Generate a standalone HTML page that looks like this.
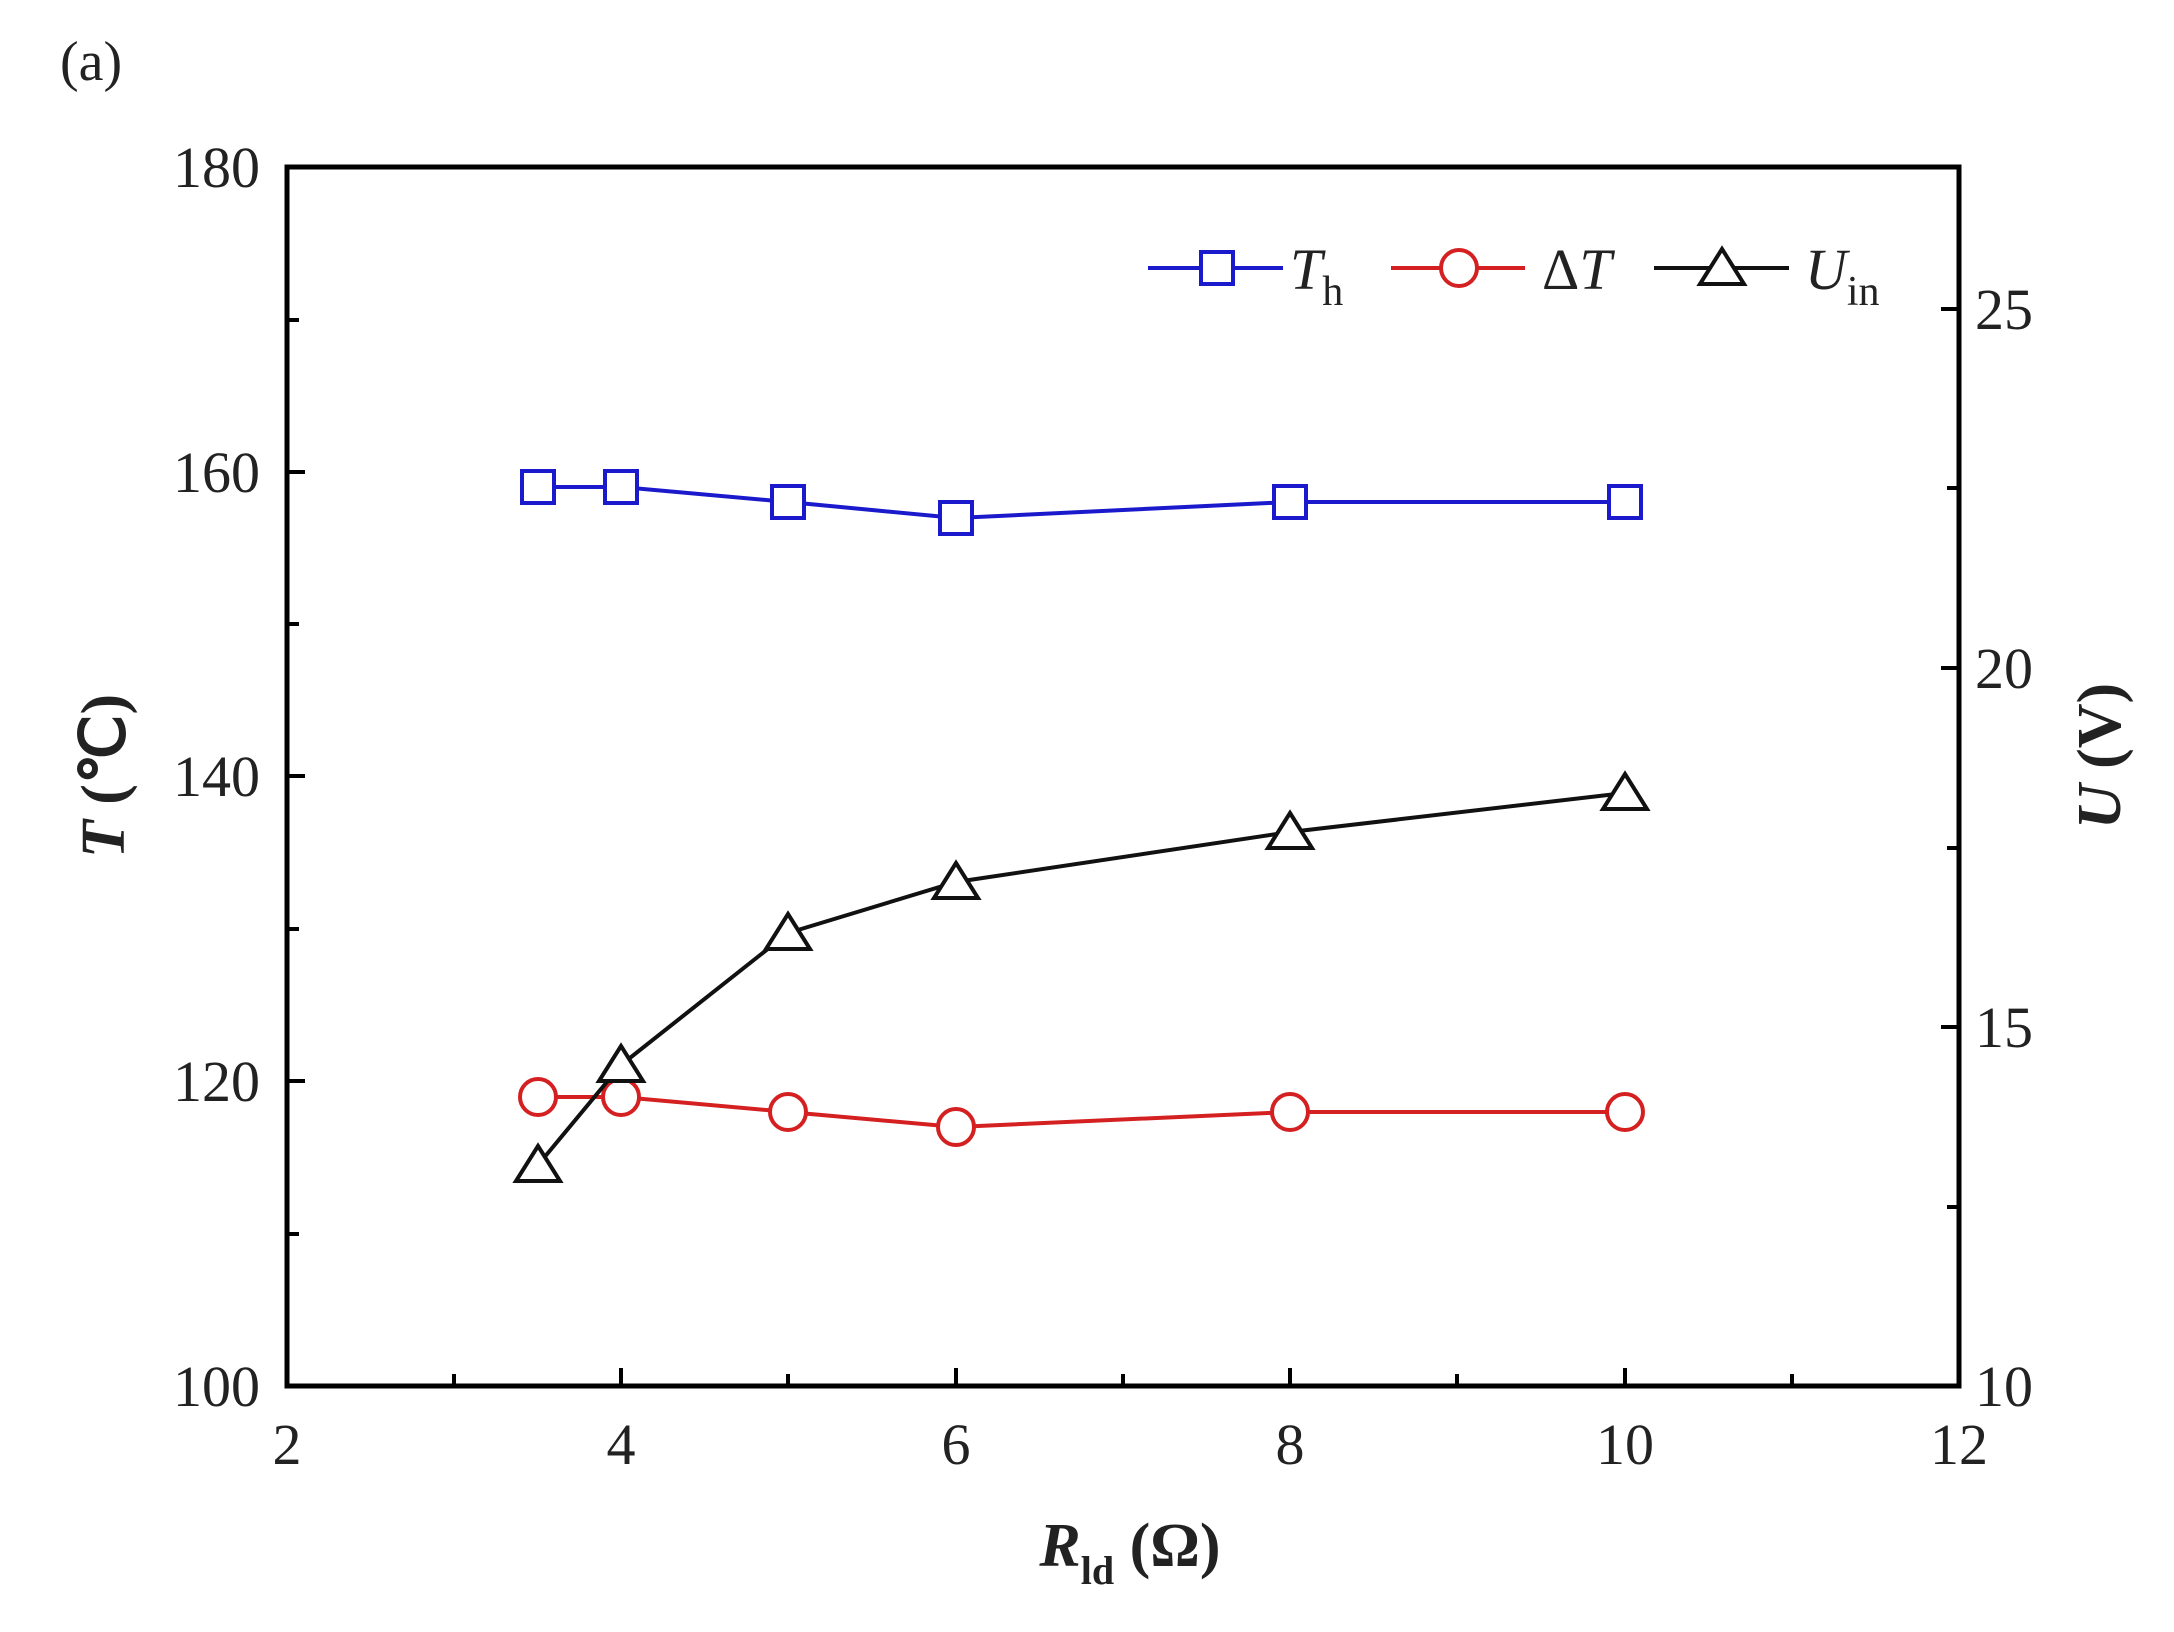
<!DOCTYPE html>
<html><head><style>body{margin:0;background:#fff}svg{display:block}</style></head><body>
<svg width="2174" height="1632" viewBox="0 0 2174 1632" xmlns="http://www.w3.org/2000/svg" font-family="Liberation Serif, serif">
<rect width="2174" height="1632" fill="#fff"/>
<text x="60" y="80" font-size="56" fill="#222">(a)</text>
<g stroke="#000" stroke-width="4">
<line x1="287" y1="1081" x2="305" y2="1081"/><line x1="287" y1="776" x2="305" y2="776"/><line x1="287" y1="472" x2="305" y2="472"/>
<line x1="287" y1="1234" x2="299" y2="1234"/><line x1="287" y1="929" x2="299" y2="929"/><line x1="287" y1="624" x2="299" y2="624"/><line x1="287" y1="320" x2="299" y2="320"/>
<line x1="1959" y1="1027" x2="1941" y2="1027"/><line x1="1959" y1="668" x2="1941" y2="668"/><line x1="1959" y1="309" x2="1941" y2="309"/>
<line x1="1959" y1="1207" x2="1947" y2="1207"/><line x1="1959" y1="848" x2="1947" y2="848"/><line x1="1959" y1="488" x2="1947" y2="488"/>
<line x1="621" y1="1386" x2="621" y2="1368"/><line x1="956" y1="1386" x2="956" y2="1368"/><line x1="1290" y1="1386" x2="1290" y2="1368"/><line x1="1625" y1="1386" x2="1625" y2="1368"/>
<line x1="454" y1="1386" x2="454" y2="1374"/><line x1="788" y1="1386" x2="788" y2="1374"/><line x1="1123" y1="1386" x2="1123" y2="1374"/><line x1="1457" y1="1386" x2="1457" y2="1374"/><line x1="1792" y1="1386" x2="1792" y2="1374"/>
</g>
<rect x="287" y="167" width="1672" height="1219" fill="none" stroke="#000" stroke-width="5"/>
<g font-size="58" fill="#222" text-anchor="end">
<text x="260" y="1406">100</text><text x="260" y="1101">120</text><text x="260" y="796">140</text><text x="260" y="492">160</text><text x="260" y="187">180</text>
</g>
<g font-size="58" fill="#222">
<text x="1975" y="1406">10</text><text x="1975" y="1047">15</text><text x="1975" y="688">20</text><text x="1975" y="329">25</text>
</g>
<g font-size="58" fill="#222" text-anchor="middle">
<text x="287" y="1464">2</text><text x="621" y="1464">4</text><text x="956" y="1464">6</text><text x="1290" y="1464">8</text><text x="1625" y="1464">10</text><text x="1959" y="1464">12</text>
</g>
<text transform="translate(124,776) rotate(-90)" font-size="62" font-weight="bold" text-anchor="middle" fill="#222"><tspan font-style="italic">T</tspan> (℃)</text>
<text transform="translate(2120,756) rotate(-90)" font-size="62" font-weight="bold" text-anchor="middle" fill="#222"><tspan font-style="italic">U</tspan> (V)</text>
<text x="1130" y="1566" font-size="62" font-weight="bold" text-anchor="middle" fill="#222"><tspan font-style="italic">R</tspan><tspan font-size="40" dy="18">ld</tspan><tspan dy="-18"> (Ω)</tspan></text>
<polyline points="538,487 621,487 788,502 956,518 1290,502 1625,502" fill="none" stroke="#1a1acc" stroke-width="4"/>
<g fill="#fff" stroke="#1a1acc" stroke-width="4">
<rect x="522" y="471" width="32" height="32"/><rect x="605" y="471" width="32" height="32"/><rect x="772" y="486" width="32" height="32"/><rect x="940" y="502" width="32" height="32"/><rect x="1274" y="486" width="32" height="32"/><rect x="1609" y="486" width="32" height="32"/>
</g>
<polyline points="538,1097 621,1097 788,1112 956,1127 1290,1112 1625,1112" fill="none" stroke="#d42020" stroke-width="4"/>
<g fill="#fff" stroke="#d42020" stroke-width="4">
<circle cx="538" cy="1097" r="18"/><circle cx="621" cy="1097" r="18"/><circle cx="788" cy="1112" r="18"/><circle cx="956" cy="1127" r="18"/><circle cx="1290" cy="1112" r="18"/><circle cx="1625" cy="1112" r="18"/>
</g>
<polyline points="538,1165 621,1065 788,933 956,882 1290,832 1625,793" fill="none" stroke="#111" stroke-width="4"/>
<g fill="#fff" stroke="#111" stroke-width="4">
<polygon points="538,1146 560,1181 516,1181"/><polygon points="621,1046 643,1081 599,1081"/><polygon points="788,914 810,949 766,949"/><polygon points="956,863 978,898 934,898"/><polygon points="1290,813 1312,848 1268,848"/><polygon points="1625,774 1647,809 1603,809"/>
</g>
<line x1="1148" y1="268" x2="1283" y2="268" stroke="#1a1acc" stroke-width="4"/>
<rect x="1201" y="252" width="32" height="32" fill="#fff" stroke="#1a1acc" stroke-width="4"/>
<text x="1290" y="289" font-size="58" fill="#222"><tspan font-style="italic">T</tspan><tspan font-size="42" dy="16">h</tspan></text>
<line x1="1391" y1="268" x2="1525" y2="268" stroke="#d42020" stroke-width="4"/>
<circle cx="1459" cy="268" r="18" fill="#fff" stroke="#d42020" stroke-width="4"/>
<text x="1542" y="289" font-size="58" fill="#222">Δ<tspan font-style="italic">T</tspan></text>
<line x1="1654" y1="268" x2="1789" y2="268" stroke="#111" stroke-width="4"/>
<polygon points="1722,249 1744,284 1700,284" fill="#fff" stroke="#111" stroke-width="4"/>
<text x="1805" y="289" font-size="58" fill="#222"><tspan font-style="italic">U</tspan><tspan font-size="42" dy="16">in</tspan></text>
</svg>
</body></html>
